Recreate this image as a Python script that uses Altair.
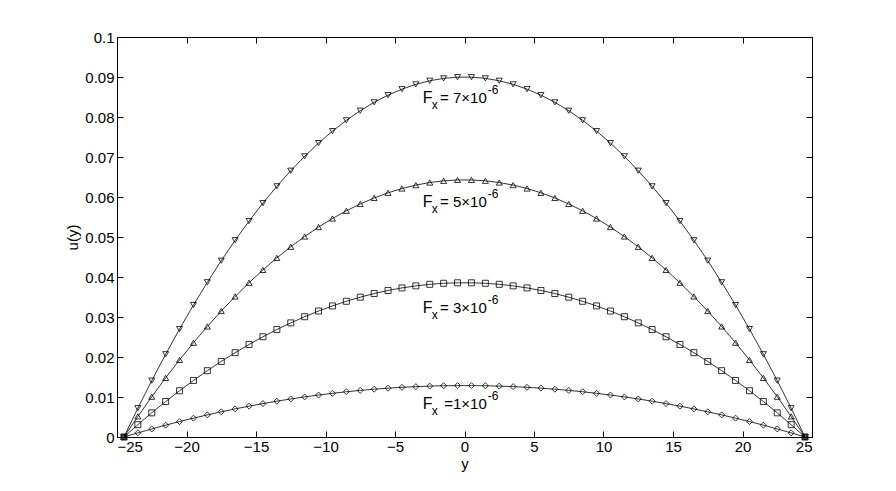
import altair as alt
import pandas as pd

# channel position y (x-axis)
y_pos = [-24.5, -23.5, -22.5, -21.5, -20.5, -19.5, -18.5, -17.5, -16.5, -15.5,
         -14.5, -13.5, -12.5, -11.5, -10.5, -9.5, -8.5, -7.5, -6.5, -5.5,
         -4.5, -3.5, -2.5, -1.5, -0.5, 0.5, 1.5, 2.5, 3.5, 4.5,
         5.5, 6.5, 7.5, 8.5, 9.5, 10.5, 11.5, 12.5, 13.5, 14.5,
         15.5, 16.5, 17.5, 18.5, 19.5, 20.5, 21.5, 22.5, 23.5, 24.5]

u_f1 = [0, 0.00103, 0.00201, 0.00296, 0.00386, 0.00471, 0.00553, 0.00630, 0.00703, 0.00771,
        0.00835, 0.00895, 0.00951, 0.01002, 0.01050, 0.01092, 0.01131, 0.01165, 0.01195, 0.01221,
        0.01242, 0.01259, 0.01272, 0.01281, 0.01285, 0.01285, 0.01281, 0.01272, 0.01259, 0.01242,
        0.01221, 0.01195, 0.01165, 0.01131, 0.01092, 0.01050, 0.01002, 0.00951, 0.00895, 0.00835,
        0.00771, 0.00703, 0.00630, 0.00553, 0.00471, 0.00386, 0.00296, 0.00201, 0.00103, 0]

u_f3 = [0, 0.00308, 0.00604, 0.00887, 0.01157, 0.01414, 0.01658, 0.01889, 0.02108, 0.02313,
        0.02506, 0.02686, 0.02853, 0.03007, 0.03149, 0.03277, 0.03393, 0.03496, 0.03586, 0.03663,
        0.03727, 0.03778, 0.03817, 0.03843, 0.03855, 0.03855, 0.03843, 0.03817, 0.03778, 0.03727,
        0.03663, 0.03586, 0.03496, 0.03393, 0.03277, 0.03149, 0.03007, 0.02853, 0.02686, 0.02506,
        0.02313, 0.02108, 0.01889, 0.01658, 0.01414, 0.01157, 0.00887, 0.00604, 0.00308, 0]

u_f5 = [0, 0.00514, 0.01007, 0.01478, 0.01928, 0.02356, 0.02763, 0.03149, 0.03513, 0.03856,
        0.04177, 0.04477, 0.04755, 0.05012, 0.05248, 0.05462, 0.05655, 0.05826, 0.05976, 0.06105,
        0.06212, 0.06297, 0.06362, 0.06405, 0.06426, 0.06426, 0.06405, 0.06362, 0.06297, 0.06212,
        0.06105, 0.05976, 0.05826, 0.05655, 0.05462, 0.05248, 0.05012, 0.04755, 0.04477, 0.04177,
        0.03856, 0.03513, 0.03149, 0.02763, 0.02356, 0.01928, 0.01478, 0.01007, 0.00514, 0]

u_f7 = [0, 0.00720, 0.01409, 0.02069, 0.02699, 0.03299, 0.03868, 0.04408, 0.04918, 0.05398,
        0.05848, 0.06267, 0.06657, 0.07017, 0.07347, 0.07647, 0.07917, 0.08157, 0.08367, 0.08546,
        0.08696, 0.08816, 0.08906, 0.08966, 0.08996, 0.08996, 0.08966, 0.08906, 0.08816, 0.08696,
        0.08546, 0.08367, 0.08157, 0.07917, 0.07647, 0.07347, 0.07017, 0.06657, 0.06267, 0.05848,
        0.05398, 0.04918, 0.04408, 0.03868, 0.03299, 0.02699, 0.02069, 0.01409, 0.00720, 0]

series_names = ["F1", "F3", "F5", "F7"]
series_values = [u_f1, u_f3, u_f5, u_f7]
series_shapes = ["diamond", "square", "triangle-up", "triangle-down"]

# annotation anchors (right end of "10")
label_x = [1.6, 1.6, 1.6, 1.6]
label_u = [0.0071, 0.0309, 0.0575, 0.0834]
label_main = ["=1×10", "= 3×10", "= 5×10", "= 7×10"]
label_sup = ["-6", "-6", "-6", "-6"]

x_ticks = [-25, -20, -15, -10, -5, 0, 5, 10, 15, 20, 25]
y_ticks = [0, 0.01, 0.02, 0.03, 0.04, 0.05, 0.06, 0.07, 0.08, 0.09, 0.1]

rows = []
for name, vals in zip(series_names, series_values):
    for yy, uu in zip(y_pos, vals):
        rows.append({"y": yy, "u": uu, "series": name})
df = pd.DataFrame(rows)

labels = pd.DataFrame({"y": label_x, "u": label_u, "main": label_main, "sup": label_sup})

FONT = "Liberation Sans"
TS = 6

xscale = alt.Scale(domain=[-25, 25], nice=False, zero=False)
yscale = alt.Scale(domain=[0, 0.1], nice=False, zero=False)

x_bottom = alt.Axis(orient="bottom", values=x_ticks, format="d", domain=False, grid=False,
                    offset=-TS, tickSize=TS, labelPadding=2, title="y", titlePadding=2,
                    tickColor="black", labelColor="black", titleColor="black")
y_left = alt.Axis(orient="left", values=y_ticks, format=".2~f", domain=False, grid=False,
                  offset=-TS, tickSize=TS, labelPadding=3, title="u(y)", titlePadding=4,
                  tickColor="black", labelColor="black", titleColor="black")
x_top = alt.Axis(orient="top", values=x_ticks, labels=False, domain=False, grid=False,
                 offset=-TS, tickSize=TS, title=None, tickColor="black")
y_right = alt.Axis(orient="right", values=y_ticks, labels=False, domain=False, grid=False,
                   offset=-TS, tickSize=TS, title=None, tickColor="black")

lines = alt.Chart(df).mark_line(color="black", strokeWidth=0.8).encode(
    x=alt.X("y:Q", scale=xscale, axis=x_bottom),
    y=alt.Y("u:Q", scale=yscale, axis=y_left),
    detail="series:N",
)

points = alt.Chart(df).mark_point(filled=False, color="black", strokeWidth=0.8, size=36, opacity=1).encode(
    x=alt.X("y:Q", scale=xscale, axis=x_top),
    y=alt.Y("u:Q", scale=yscale, axis=y_right),
    shape=alt.Shape("series:N", scale=alt.Scale(domain=series_names, range=series_shapes), legend=None),
)

def txt(**kw):
    return alt.Chart(labels).mark_text(font=FONT, color="black", baseline="alphabetic", **kw)

enc = dict(x=alt.X("y:Q", scale=xscale, axis=None), y=alt.Y("u:Q", scale=yscale, axis=None))

t_main = txt(align="right", fontSize=15).encode(text="main:N", **enc)
t_sup = txt(align="left", fontSize=12, dx=1, dy=-9).encode(text="sup:N", **enc)
t_F = txt(align="left", fontSize=16, dx=-64).encode(text=alt.value("F"), **enc)
t_x = txt(align="left", fontSize=12, dx=-55, dy=6).encode(text=alt.value("x"), **enc)

chart = alt.layer(lines, points, t_main, t_sup, t_F, t_x).resolve_axis(
    x="independent", y="independent"
).properties(
    width=695, height=400,
    autosize=alt.AutoSizeParams(type="none"),
    padding={"left": 109, "top": 29, "right": 60, "bottom": 40},
).configure_view(
    stroke="black", strokeWidth=1
).configure_axis(
    labelFont=FONT, labelFontSize=15, titleFont=FONT, titleFontSize=15, titleFontWeight="normal"
)

chart.save("out.html", embed_options={"renderer": "svg", "actions": False})
